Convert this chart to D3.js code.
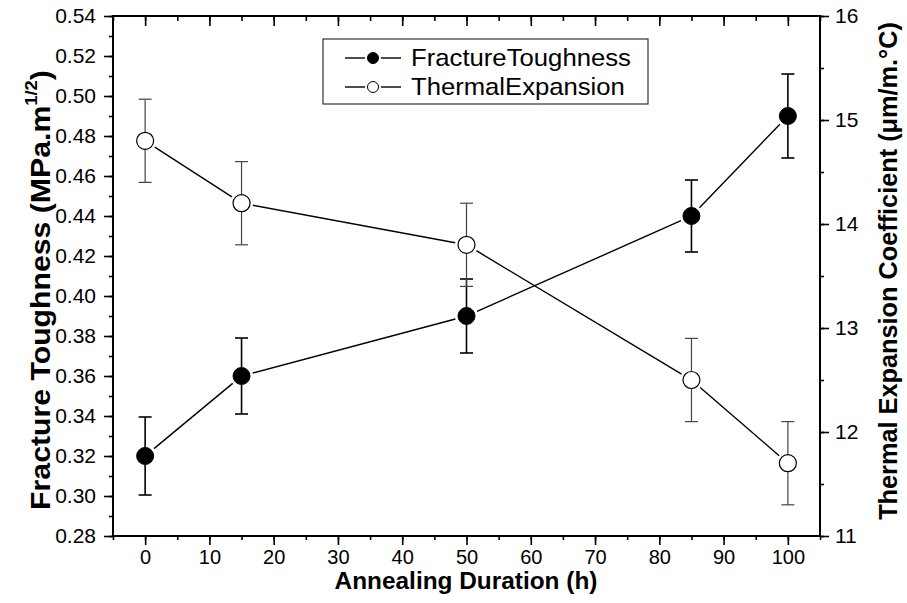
<!DOCTYPE html>
<html>
<head>
<meta charset="utf-8">
<script src="https://cdn.jsdelivr.net/npm/d3@7"></script>
<style>
  body { margin: 0; background: #fff; }
  text { font-family: "Liberation Sans", Arial, sans-serif; }
</style>
</head>
<body>
<svg id="chart" width="907" height="603"></svg>
<script>
// annealing durations (h)
const hours = [0, 15, 50, 85, 100];
// fracture toughness (MPa.m^1/2) and its error
const toughness = [0.32, 0.36, 0.39, 0.44, 0.49];
const toughnessErr = [0.0195, 0.019, 0.0185, 0.018, 0.021];
// thermal expansion coefficient (um/m.C) and its error
const expansion = [14.8, 14.2, 13.8, 12.5, 11.7];
const expansionErr = [0.4, 0.4, 0.4, 0.4, 0.4];

const leftTicks = [0.28, 0.30, 0.32, 0.34, 0.36, 0.38, 0.40, 0.42, 0.44, 0.46, 0.48, 0.50, 0.52, 0.54];
const rightTicks = [11, 12, 13, 14, 15, 16];
const xTicks = [0, 10, 20, 30, 40, 50, 60, 70, 80, 90, 100];

const svg = d3.select("#chart");
const m = { left: 113, right: 820, top: 16, bottom: 536 };

const x = d3.scaleLinear().domain([-5, 105]).range([m.left, m.right]);
const yL = d3.scaleLinear().domain([0.28, 0.54]).range([m.bottom, m.top]);
const yR = d3.scaleLinear().domain([11, 16]).range([m.bottom, m.top]);

// minor tick helpers
const xMinor = d3.range(-5, 105.1, 5);
const yLMinor = d3.range(0.28, 0.5401, 0.01).map(v => +v.toFixed(2));
const yRMinor = d3.range(11, 16.01, 0.5);

function styleAxis(g, size) {
  g.selectAll(".domain").remove();
  g.selectAll("line").attr("stroke", "#000").attr("stroke-width", 1.6);
  g.selectAll("text").attr("font-size", size).attr("fill", "#000");
}

// stretch a text horizontally (in its own frame) to a target length
function fitText(t, target, base) {
  const w = t.node().getComputedTextLength();
  t.attr("transform", base + ` scale(${target / w},1)`);
}

// bottom axis
svg.append("g")
  .attr("transform", `translate(0,${m.bottom})`)
  .call(d3.axisBottom(x).tickValues(xMinor).tickSize(4).tickFormat(""))
  .call(g => styleAxis(g, 0));
svg.append("g")
  .attr("transform", `translate(0,${m.bottom})`)
  .call(d3.axisBottom(x).tickValues(xTicks).tickSize(9).tickPadding(5).tickFormat(d3.format("d")))
  .call(g => styleAxis(g, 20));

// top axis (ticks inside)
svg.append("g")
  .attr("transform", `translate(0,${m.top})`)
  .call(d3.axisBottom(x).tickValues(xMinor).tickSize(5).tickFormat(""))
  .call(g => styleAxis(g, 0));
svg.append("g")
  .attr("transform", `translate(0,${m.top})`)
  .call(d3.axisBottom(x).tickValues(xTicks).tickSize(10).tickFormat(""))
  .call(g => styleAxis(g, 0));

// left axis
svg.append("g")
  .attr("transform", `translate(${m.left},0)`)
  .call(d3.axisLeft(yL).tickValues(yLMinor).tickSize(4).tickFormat(""))
  .call(g => styleAxis(g, 0));
svg.append("g")
  .attr("transform", `translate(${m.left},0)`)
  .call(d3.axisLeft(yL).tickValues(leftTicks).tickSize(9).tickPadding(8).tickFormat(d3.format(".2f")))
  .call(g => styleAxis(g, 21));

// right axis
svg.append("g")
  .attr("transform", `translate(${m.right},0)`)
  .call(d3.axisRight(yR).tickValues(yRMinor).tickSize(4).tickFormat(""))
  .call(g => styleAxis(g, 0));
svg.append("g")
  .attr("transform", `translate(${m.right},0)`)
  .call(d3.axisRight(yR).tickValues(rightTicks).tickSize(9).tickPadding(6).tickFormat(d3.format("d")))
  .call(g => styleAxis(g, 21));

// frame
svg.append("rect")
  .attr("x", m.left).attr("y", m.top)
  .attr("width", m.right - m.left).attr("height", m.bottom - m.top)
  .attr("fill", "none").attr("stroke", "#000").attr("stroke-width", 2);

// axis titles
const xt = svg.append("text")
  .attr("text-anchor", "middle").attr("font-size", 24).attr("font-weight", "bold")
  .text("Annealing Duration (h)");
fitText(xt, 263, "translate(466,589)");

const lt = svg.append("text")
  .attr("text-anchor", "middle").attr("font-size", 28).attr("font-weight", "bold");
lt.append("tspan").text("Fracture Toughness (MPa.m");
lt.append("tspan").attr("font-size", 17).attr("dy", -13).text("1/2");
lt.append("tspan").attr("dy", 13).text(")");
fitText(lt, 440, "translate(50,290) rotate(-90)");

const rt = svg.append("text")
  .attr("text-anchor", "middle").attr("font-size", 26).attr("font-weight", "bold")
  .text("Thermal Expansion Coefficient (\u03bcm/m.\u00b0C)");
fitText(rt, 498, "translate(897,271) rotate(-90)");

// series drawing
function drawSeries(vals, errs, y, opts) {
  const pts = hours.map((h, i) => ({ x: x(h), y: y(vals[i]), lo: y(vals[i] - errs[i]), hi: y(vals[i] + errs[i]) }));
  const g = svg.append("g");
  // error bars
  pts.forEach(p => {
    g.append("line").attr("x1", p.x).attr("x2", p.x).attr("y1", p.lo).attr("y2", p.hi)
      .attr("stroke", opts.errColor).attr("stroke-width", opts.errWidth);
    [p.lo, p.hi].forEach(yy => g.append("line")
      .attr("x1", p.x - 6.5).attr("x2", p.x + 6.5).attr("y1", yy).attr("y2", yy)
      .attr("stroke", opts.errColor).attr("stroke-width", opts.errWidth));
  });
  // connecting segments with a gap at markers
  d3.pairs(pts).forEach(([a, b]) => {
    const dx = b.x - a.x, dy = b.y - a.y, len = Math.hypot(dx, dy);
    const gap = opts.r + 3;
    g.append("line")
      .attr("x1", a.x + dx / len * gap).attr("y1", a.y + dy / len * gap)
      .attr("x2", b.x - dx / len * gap).attr("y2", b.y - dy / len * gap)
      .attr("stroke", "#000").attr("stroke-width", 1.4);
  });
  g.selectAll("circle").data(pts).join("circle")
    .attr("cx", d => d.x).attr("cy", d => d.y).attr("r", opts.r)
    .attr("fill", opts.fill).attr("stroke", "#000").attr("stroke-width", opts.stroke);
}

drawSeries(toughness, toughnessErr, yL, { r: 8.5, fill: "#000", stroke: 1, errColor: "#000", errWidth: 1.6 });
drawSeries(expansion, expansionErr, yR, { r: 8.5, fill: "#fff", stroke: 1.2, errColor: "#444", errWidth: 1.2 });

// legend
const lg = svg.append("g");
lg.append("rect").attr("x", 323).attr("y", 39).attr("width", 325).attr("height", 65)
  .attr("fill", "#fff").attr("stroke", "#333").attr("stroke-width", 1.2);
const legendItems = [
  { label: "FractureToughness", fill: "#000", cy: 58 },
  { label: "ThermalExpansion", fill: "#fff", cy: 87 }
];
legendItems.forEach(it => {
  lg.append("line").attr("x1", 345).attr("x2", 365).attr("y1", it.cy).attr("y2", it.cy).attr("stroke", "#000").attr("stroke-width", 1.4);
  lg.append("line").attr("x1", 381).attr("x2", 401).attr("y1", it.cy).attr("y2", it.cy).attr("stroke", "#000").attr("stroke-width", 1.4);
  lg.append("circle").attr("cx", 373).attr("cy", it.cy).attr("r", 5.5).attr("fill", it.fill).attr("stroke", "#000").attr("stroke-width", 1);
  const t = lg.append("text").attr("font-size", 24).text(it.label);
  fitText(t, it.label.length === 17 ? 220 : 214, `translate(411,${it.cy + 8})`);
});
</script>
</body>
</html>
